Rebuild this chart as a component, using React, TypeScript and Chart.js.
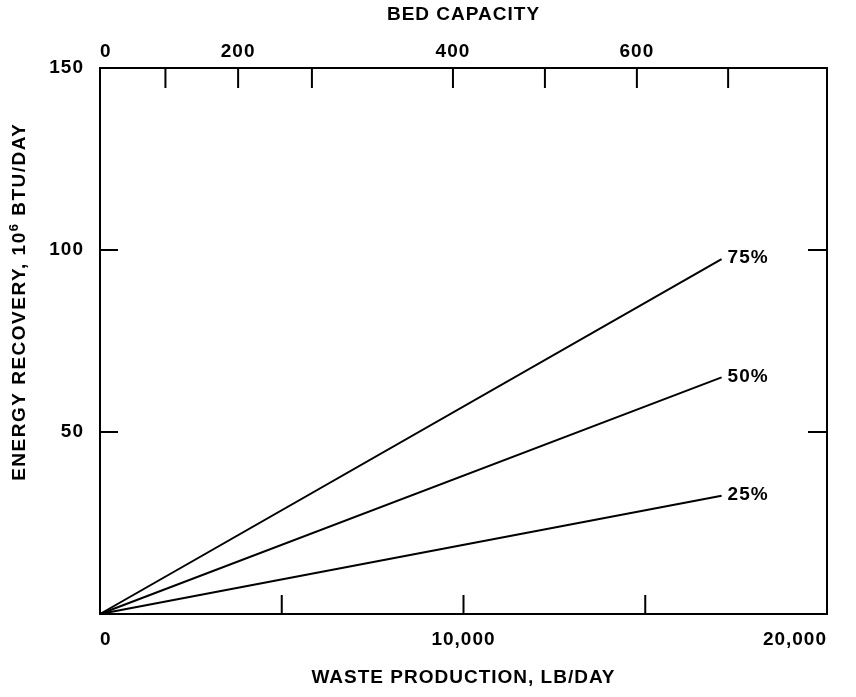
import React, { useEffect, useRef } from 'react';
import { Chart, registerables } from 'chart.js';

Chart.register(...registerables);

// ---- data ----
const wasteProduction = [0, 17100]; // lb/day, x of each line's two points
const recovery75 = [0, 97.5]; // 10^6 BTU/day
const recovery50 = [0, 65];
const recovery25 = [0, 32.5];
const seriesLabels = ['75%', '50%', '25%'];

const wasteLabelTicks = [0, 10000, 20000];
const wasteMarkTicks = [5000, 10000, 15000];
const energyLabelTicks = [50, 100, 150];
const energyMarkTicks = [50, 100];
const bedCapacity = [0, 100, 200, 300, 400, 500, 600, 700];
const bedWasteEquivalent = [0, 1800, 3800, 5830, 9710, 12240, 14770, 17280];
const bedLabelStep = 200;

const xTitle = 'WASTE PRODUCTION, LB/DAY';
const topTitle = 'BED CAPACITY';
const yTitleParts = ['ENERGY RECOVERY, 10', '6', ' BTU/DAY'];

const FAMILY = '"Liberation Sans", Arial, Helvetica, sans-serif';
const FONT = { family: FAMILY, size: 19, weight: 'bold' as const };

const framePlugin = {
  id: 'frameAndLabels',
  beforeDraw(chart: any) {
    (chart.ctx as any).letterSpacing = '1px';
  },
  afterDraw(chart: any) {
    const { ctx, chartArea } = chart;
    const { left, top, right, bottom } = chartArea;
    const x = chart.scales.x;
    const x2 = chart.scales.x2;
    const y = chart.scales.y;
    ctx.save();
    ctx.strokeStyle = '#000';
    ctx.lineWidth = 2;
    ctx.strokeRect(left, top, right - left, bottom - top);
    ctx.beginPath();
    energyMarkTicks.forEach((v) => {
      const py = y.getPixelForValue(v);
      ctx.moveTo(left, py);
      ctx.lineTo(left + 18, py);
      ctx.moveTo(right - 19, py);
      ctx.lineTo(right, py);
    });
    wasteMarkTicks.forEach((v) => {
      const px = x.getPixelForValue(v);
      ctx.moveTo(px, bottom);
      ctx.lineTo(px, bottom - 19);
    });
    bedWasteEquivalent.forEach((v, i) => {
      if (i === 0) return;
      const px = x2.getPixelForValue(v);
      ctx.moveTo(px, top);
      ctx.lineTo(px, top + 20);
    });
    ctx.stroke();

    // series labels at line ends
    ctx.fillStyle = '#000';
    ctx.font = `bold 19px ${FAMILY}`;
    ctx.textAlign = 'left';
    ctx.textBaseline = 'middle';
    chart.data.datasets.forEach((_: any, i: number) => {
      const meta = chart.getDatasetMeta(i);
      const pt = meta.data[meta.data.length - 1];
      ctx.fillText(seriesLabels[i], pt.x + 6, pt.y - 1);
    });

    // y title with superscript
    (ctx as any).letterSpacing = '1.5px';
    const big = `bold 19px ${FAMILY}`;
    const small = `bold 13px ${FAMILY}`;
    ctx.font = big;
    const w0 = ctx.measureText(yTitleParts[0]).width;
    const w2 = ctx.measureText(yTitleParts[2]).width;
    ctx.font = small;
    const w1 = ctx.measureText(yTitleParts[1]).width;
    const total = w0 + w1 + w2;
    const cy = top + (bottom - top) * 0.428;
    ctx.translate(20, cy);
    ctx.rotate(-Math.PI / 2);
    ctx.textAlign = 'left';
    ctx.textBaseline = 'middle';
    let cx = -total / 2;
    ctx.font = big;
    ctx.fillText(yTitleParts[0], cx, 0);
    cx += w0;
    ctx.font = small;
    ctx.fillText(yTitleParts[1], cx, -6);
    cx += w1;
    ctx.font = big;
    ctx.fillText(yTitleParts[2], cx, 0);
    ctx.restore();
  },
};

export default function App() {
  const canvasRef = useRef<HTMLCanvasElement | null>(null);

  useEffect(() => {
    const canvas = canvasRef.current;
    if (!canvas) return;
    const mk = (label: string, vals: number[]) => ({
      label,
      data: vals.map((v, i) => ({ x: wasteProduction[i], y: v })),
      borderColor: '#000',
      backgroundColor: '#000',
      borderWidth: 2,
      pointRadius: 0,
      fill: false,
      tension: 0,
      xAxisID: 'x',
      yAxisID: 'y',
      clip: false as any,
    });
    const chart = new Chart(canvas, {
      type: 'line',
      data: {
        datasets: [
          mk(seriesLabels[0], recovery75),
          mk(seriesLabels[1], recovery50),
          mk(seriesLabels[2], recovery25),
        ],
      },
      options: {
        animation: false,
        responsive: false,
        maintainAspectRatio: false,
        layout: { padding: { left: 0, top: 0, right: 29, bottom: 0 } },
        plugins: {
          legend: { display: false },
          tooltip: { enabled: false },
        },
        scales: {
          x: {
            type: 'linear',
            position: 'bottom',
            min: 0,
            max: 20000,
            afterBuildTicks: (s: any) => {
              s.ticks = wasteLabelTicks.map((v) => ({ value: v }));
            },
            afterFit: (s: any) => {
              s.height = 83;
            },
            ticks: {
              align: 'inner',
              autoSkip: false,
              maxRotation: 0,
              padding: 14,
              color: '#000',
              font: FONT,
              callback: (v: any) => Number(v).toLocaleString('en-US'),
            },
            grid: { display: false, drawTicks: false },
            border: { display: false },
            title: {
              display: true,
              text: xTitle,
              color: '#000',
              font: FONT,
              padding: { top: 0, bottom: 8 },
            },
          },
          x2: {
            type: 'linear',
            position: 'top',
            min: 0,
            max: 20000,
            afterBuildTicks: (s: any) => {
              s.ticks = bedWasteEquivalent.map((v) => ({ value: v }));
            },
            afterFit: (s: any) => {
              s.height = 68;
            },
            ticks: {
              align: 'inner',
              autoSkip: false,
              maxRotation: 0,
              padding: 5,
              color: '#000',
              font: FONT,
              callback: (_v: any, i: number) =>
                bedCapacity[i] % bedLabelStep === 0 ? String(bedCapacity[i]) : '',
            },
            grid: { display: false, drawTicks: false },
            border: { display: false },
            title: {
              display: true,
              text: topTitle,
              color: '#000',
              font: FONT,
              padding: { top: 3, bottom: 0 },
            },
          },
          y: {
            type: 'linear',
            position: 'left',
            min: 0,
            max: 150,
            afterBuildTicks: (s: any) => {
              s.ticks = energyLabelTicks.map((v) => ({ value: v }));
            },
            afterFit: (s: any) => {
              s.width = 100;
            },
            ticks: {
              autoSkip: false,
              padding: 16,
              color: '#000',
              font: FONT,
            },
            grid: { display: false, drawTicks: false },
            border: { display: false },
          },
        },
      } as any,
      plugins: [framePlugin],
    });
    return () => chart.destroy();
  }, []);

  return (
    <div
      style={{
        position: 'fixed',
        left: 0,
        top: 0,
        width: 856,
        height: 697,
        background: '#fff',
      }}
    >
      <canvas ref={canvasRef} width={856} height={697} style={{ display: 'block' }} />
    </div>
  );
}
